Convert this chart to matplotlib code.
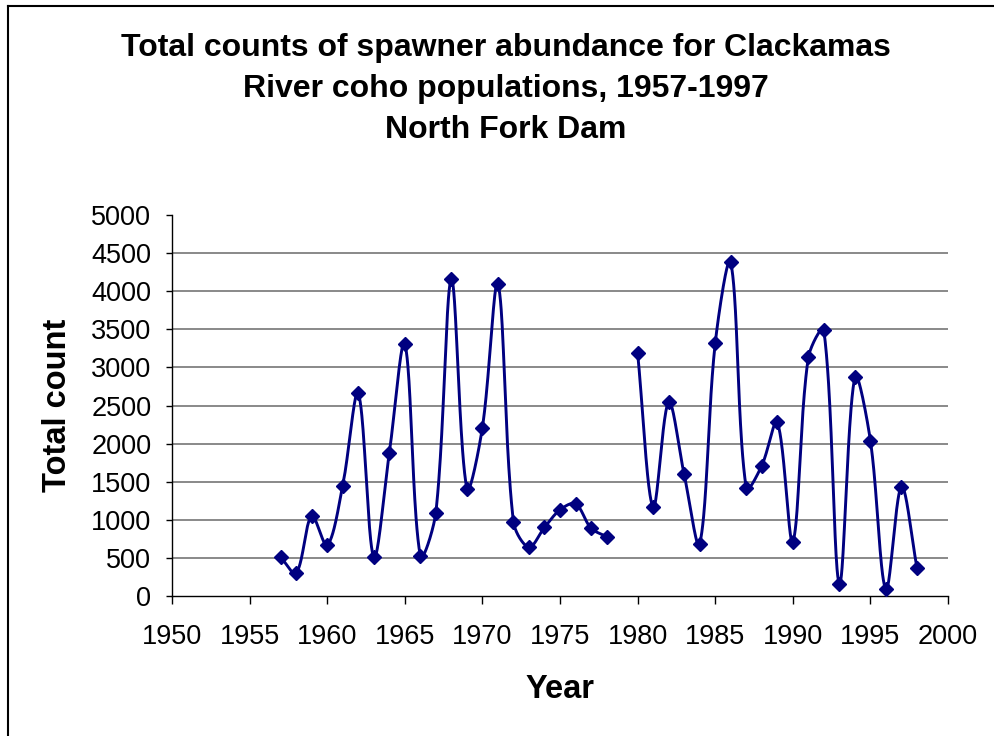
import numpy as np
import matplotlib
matplotlib.use('Agg')
import matplotlib.pyplot as plt
from matplotlib.lines import Line2D

plt.rcParams['font.family'] = ['Liberation Sans', 'DejaVu Sans']

# --- data (1979 has no count) ---
years = list(range(1957, 1999))
counts = [510, 300, 1050, 665, 1450, 2660, 510, 1875, 3310, 525,
          1095, 4155, 1410, 2210, 4095, 975, 640, 900, 1130, 1210,
          890, 780, np.nan, 3190, 1165, 2545, 1595, 680, 3315, 4380,
          1415, 1710, 2280, 715, 3130, 3485, 160, 2875, 2040, 88,
          1435, 372]

x_ticks = list(range(1950, 2001, 5))
y_ticks = list(range(0, 5001, 500))

title_lines = ['Total counts of spawner abundance for Clackamas',
               'River coho populations, 1957-1997',
               'North Fork Dam']

NAVY = '#000080'

# pixel scale of the plot area, used so the smoothing works in screen space
PX_X = 775 / 50.0
PX_Y = 380.7 / 5000.0


def smooth(xs, ys, n=40):
    # excel-like smoothed line: bezier segments, tangents weighted by
    # segment length in pixels
    p = np.column_stack([np.asarray(xs, float) * PX_X,
                         np.asarray(ys, float) * PX_Y])
    m = len(p)
    t = np.linspace(0, 1, n)[:, None]
    pts = []
    for i in range(m - 1):
        a, b = p[i], p[i + 1]
        pa = p[i - 1] if i > 0 else a
        nb = p[i + 2] if i + 2 < m else b
        L = np.hypot(*(b - a))
        Lp = np.hypot(*(a - pa))
        Ln = np.hypot(*(nb - b))
        c1 = a + (b - pa) * L / (Lp + L) / 3
        c2 = b - (nb - a) * L / (L + Ln) / 3
        seg = ((1 - t) ** 3 * a + 3 * (1 - t) ** 2 * t * c1
               + 3 * (1 - t) * t ** 2 * c2 + t ** 3 * b)
        pts.append(seg)
    pts = np.vstack(pts)
    return pts[:, 0] / PX_X, pts[:, 1] / PX_Y


fig = plt.figure(figsize=(9.94, 7.36), dpi=100, facecolor='white')
ax = fig.add_axes([172 / 994, 1 - 596 / 736, 776 / 994, 381 / 736])

# split into runs around the missing year
yr = np.array(years)
ct = np.array(counts, float)
ok = ~np.isnan(ct)
runs = []
cur = []
for i in range(len(yr)):
    if ok[i]:
        cur.append(i)
    elif cur:
        runs.append(cur)
        cur = []
if cur:
    runs.append(cur)

for r in runs:
    sx, sy = smooth(yr[r], ct[r])
    ax.plot(sx, sy, color=NAVY, lw=2.1, zorder=3)
ax.plot(yr[ok], ct[ok], linestyle='none', marker='D', markersize=7,
        color=NAVY, zorder=4)

ax.set_xlim(1950, 2000)
ax.set_ylim(0, 5000)
ax.set_xticks(x_ticks)
ax.set_yticks(y_ticks)
ax.tick_params(labelsize=19.5, direction='out', width=1)
ax.tick_params(axis='x', length=5.8, pad=14)
ax.tick_params(axis='y', length=4.3, pad=10.5)

for g in y_ticks[1:-1]:
    ax.axhline(g, color='#808080', lw=1.3, zorder=1)

ax.spines['top'].set_visible(False)
ax.spines['right'].set_visible(False)
ax.spines['left'].set_linewidth(1)
ax.spines['bottom'].set_linewidth(1)

fig.text(560 / 994, 1 - 690 / 736, 'Year', ha='center', va='center',
         fontsize=23.5, fontweight='bold')
fig.text(58 / 994, 1 - 405 / 736, 'Total count', ha='center', va='center',
         rotation=90, fontsize=23.5, fontweight='bold')

for k, line in enumerate(title_lines):
    fig.text(506 / 994, 1 - (48 + 41 * k) / 736, line, ha='center',
             va='center', fontsize=23, fontweight='bold')

# outer frame (only top and left edges show)
fig.add_artist(Line2D([8 / 994, 8 / 994], [0, 1 - 6 / 736],
                      transform=fig.transFigure, color='black', lw=1.5))
fig.add_artist(Line2D([8 / 994, 1], [1 - 6 / 736, 1 - 6 / 736],
                      transform=fig.transFigure, color='black', lw=1.5))

fig.savefig('out.png', dpi=100)
